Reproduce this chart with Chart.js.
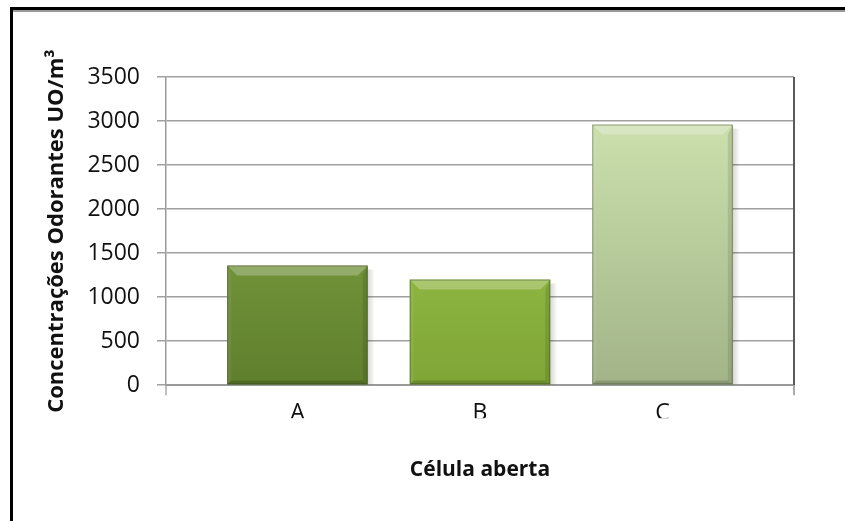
<!DOCTYPE html>
<html>
<head>
<meta charset="utf-8">
<title>Célula aberta</title>
<script src="https://cdn.jsdelivr.net/npm/chart.js@4.4.1/dist/chart.umd.min.js"></script>
<style>
    html, body { margin: 0; padding: 0; background: #fff; }
    #wrap { position: relative; width: 845px; height: 521px; }
</style>
</head>
<body>
<div id="wrap"><canvas id="chartOdor" width="845" height="521"></canvas></div>
<script>
// ── Data ─────────────────────────────────
const categorias  = ['A', 'B', 'C'];
const concentracao = [1360, 1200, 2960];
const yTicks      = [0, 500, 1000, 1500, 2000, 2500, 3000, 3500];

// cores de cada barra: topo / base
const corTopo = ['#8cb04a', '#a9d253', '#d3e7b3'];
const corBase = ['#5f7f2d', '#7ea536', '#a2b488'];

const FONTE = "'Open Sans', 'Noto Sans', sans-serif";

// ── Fundo + moldura ──────────────────────
const molduraPlugin = {
    id: 'moldura',
    beforeDraw(chart) {
        const c = chart.ctx;
        c.save();
        c.fillStyle = '#fff';
        c.fillRect(0, 0, chart.width, chart.height);
        c.fillStyle = '#999';
        c.fillRect(12, 10, chart.width, 2);
        c.fillStyle = '#000';
        c.fillRect(10, 7, chart.width, 3);
        c.fillRect(10, 7, 3, chart.height);
        c.restore();
    },
    afterDraw(chart) {
        const a = chart.chartArea;
        const c = chart.ctx;
        c.save();
        // borda direita da área de plotagem + prolongamentos abaixo do eixo
        c.fillStyle = '#5a5a5a';
        c.fillRect(a.right - 1, a.top, 2, a.bottom - a.top);
        c.fillStyle = '#aaaaaa';
        c.fillRect(a.right - 1, a.bottom, 2, 10);
        c.fillRect(a.left - 0.75, a.bottom, 1.5, 10);
        // rótulos A/B/C cortados na base, como no original
        const x = chart.scales.x;
        c.fillStyle = '#fff';
        c.fillRect(a.left + 20, x.top + 33, a.right - a.left - 40, 8);
        c.restore();
    }
};

// ── Bisel nas barras ─────────────────────
const biselPlugin = {
    id: 'bisel',
    beforeDatasetsDraw(chart) {
        const c = chart.ctx;
        const meta = chart.getDatasetMeta(0);
        c.save();
        meta.data.forEach(function(bar) {
            const g = c.createLinearGradient(bar.x + bar.width / 2, 0, bar.x + bar.width / 2 + 7, 0);
            g.addColorStop(0, 'rgba(0,0,0,0.16)');
            g.addColorStop(1, 'rgba(0,0,0,0)');
            c.fillStyle = g;
            c.fillRect(bar.x + bar.width / 2, bar.y + 4, 7, bar.base - bar.y - 4);
        });
        c.restore();
    },
    afterDatasetsDraw(chart) {
        const c = chart.ctx;
        const meta = chart.getDatasetMeta(0);
        const b = 10;
        c.save();
        meta.data.forEach(function(bar) {
            const l = bar.x - bar.width / 2, r = bar.x + bar.width / 2;
            const t = bar.y, btm = bar.base;
            function quad(pts, cor) {
                c.beginPath();
                c.moveTo(pts[0][0], pts[0][1]);
                for (let i = 1; i < pts.length; i++) c.lineTo(pts[i][0], pts[i][1]);
                c.closePath();
                c.fillStyle = cor;
                c.fill();
            }
            quad([[l, t], [r, t], [r - b, t + b], [l + b, t + b]], 'rgba(255,255,255,0.25)');
            quad([[l, t], [l + 4, t + b], [l + 4, btm - 4], [l, btm]], 'rgba(255,255,255,0.06)');
            quad([[r, t], [r, btm], [r - 5, btm - 4], [r - 5, t + b]], 'rgba(0,0,0,0.10)');
            quad([[l, btm], [l + 4, btm - 4], [r - 5, btm - 4], [r, btm]], 'rgba(0,0,0,0.16)');
            c.strokeStyle = 'rgba(40,50,20,0.40)';
            c.lineWidth = 1;
            c.strokeRect(l + 0.5, t + 0.5, r - l - 1, btm - t - 1);
        });
        c.restore();
    }
};

// ── Chart.js ─────────────────────────────
const ctx = document.getElementById('chartOdor');

new Chart(ctx, {
    type: 'bar',
    data: {
        datasets: [{
            data: concentracao.map(function(v, i) { return { x: i, y: v }; }),
            backgroundColor: function(context) {
                const chart = context.chart;
                const i = context.dataIndex;
                if (!chart.chartArea) return corTopo[i];
                const el = chart.getDatasetMeta(0).data[i];
                const topo = el && isFinite(el.y) ? el.y : chart.chartArea.top;
                const g = chart.ctx.createLinearGradient(0, topo, 0, chart.chartArea.bottom);
                g.addColorStop(0, corTopo[i]);
                g.addColorStop(1, corBase[i]);
                return g;
            },
            borderWidth: 0,
            barPercentage: 0.77,
            categoryPercentage: 1.0
        }]
    },
    options: {
        responsive: false,
        animation: false,
        layout: { padding: { top: 77, right: 51, bottom: 38, left: 44 } },
        plugins: {
            legend: { display: false },
            tooltip: { enabled: false }
        },
        scales: {
            x: {
                type: 'linear',
                offset: false,
                min: -0.72,
                max: 2.72,
                afterBuildTicks: function(axis) {
                    axis.ticks = categorias.map(function(_, i) { return { value: i }; });
                },
                grid: { display: false, drawTicks: false },
                border: { display: true, color: '#9a9a9a', width: 2 },
                ticks: {
                    font: { family: FONTE, size: 23 },
                    color: '#111',
                    padding: 14,
                    callback: function(v) { return categorias[v]; }
                },
                title: {
                    display: true,
                    text: 'Célula aberta',
                    font: { family: FONTE, size: 21, weight: 'bold' },
                    color: '#111',
                    padding: { top: 17, bottom: 0 }
                }
            },
            y: {
                min: 0,
                max: 3500,
                afterBuildTicks: function(axis) {
                    axis.ticks = yTicks.map(function(v) { return { value: v }; });
                },
                grid: {
                    color: '#a0a0a0',
                    lineWidth: 1.5,
                    tickLength: 9
                },
                border: { display: true, color: '#9a9a9a', width: 1.5 },
                ticks: {
                    font: { family: FONTE, size: 23 },
                    color: '#111',
                    padding: 17,
                    callback: function(v) { return String(v); }
                },
                title: {
                    display: true,
                    text: 'Concentrações Odorantes UO/m³',
                    font: { family: FONTE, size: 22, weight: 'bold' },
                    color: '#111',
                    padding: { top: 0, bottom: 0 }
                }
            }
        }
    },
    plugins: [molduraPlugin, biselPlugin]
});
</script>
</body>
</html>
